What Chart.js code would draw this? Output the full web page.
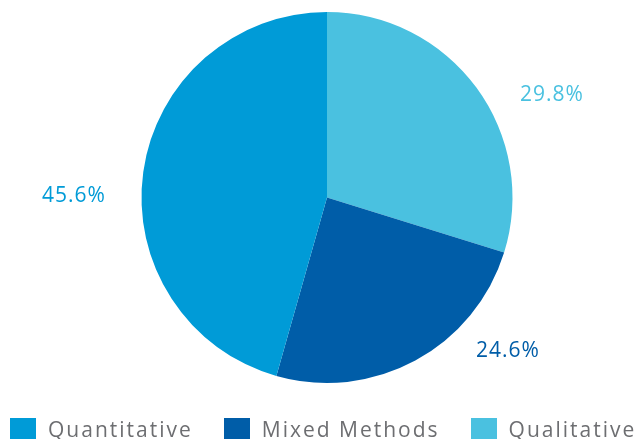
<!DOCTYPE html>
<html>
<head>
<meta charset="utf-8">
<script src="https://cdn.jsdelivr.net/npm/chart.js@4.4.1/dist/chart.umd.min.js"></script>
<style>
  html, body { margin: 0; padding: 0; background: #fff; }
  #wrap { position: relative; width: 643px; height: 439px; overflow: hidden; }
  #pie { position: absolute; left: 0; top: 0; }
  #legend {
    position: absolute; left: 10px; top: 415px;
    display: flex; align-items: center;
    font-family: "Open Sans", sans-serif; font-size: 21px; color: #6d6e71;
    letter-spacing: 2px; white-space: nowrap;
  }
  .item { display: flex; align-items: center; margin-right: 31px; }
  .swatch { width: 26px; height: 22px; margin-right: 12px; }
</style>
</head>
<body>
<div id="wrap">
  <canvas id="pie" width="643" height="439"></canvas>
  <div id="legend"></div>
</div>
<script>
// drawn clockwise from 12 o'clock; legend lists them the other way round
const categories = ["Qualitative", "Mixed Methods", "Quantitative"];
const shares = [29.8, 24.6, 45.6];
const colors = ["#4ac1e0", "#005da8", "#009bd7"];

// where each percentage label sits: degrees clockwise from top, distance in radii
const labelAngles = [65.5, 130.3, 270.3];
const labelDist = [1.333, 1.279, 1.364];

const pctLabels = {
  id: "pctLabels",
  afterDatasetsDraw(chart) {
    const ctx = chart.ctx;
    const arcs = chart.getDatasetMeta(0).data;
    ctx.save();
    ctx.font = "21px 'Open Sans', sans-serif";
    ctx.letterSpacing = "1px";
    ctx.textAlign = "center";
    ctx.textBaseline = "middle";
    arcs.forEach((arc, i) => {
      const a = labelAngles[i] * Math.PI / 180;
      const r = arc.outerRadius * labelDist[i];
      ctx.fillStyle = colors[i];
      ctx.fillText(shares[i].toFixed(1) + "%", arc.x + r * Math.sin(a), arc.y - r * Math.cos(a));
    });
    ctx.restore();
  }
};

new Chart(document.getElementById("pie").getContext("2d"), {
  type: "pie",
  data: {
    labels: categories,
    datasets: [{
      data: shares,
      backgroundColor: colors,
      borderWidth: 0
    }]
  },
  options: {
    responsive: false,
    animation: false,
    layout: { padding: { left: 11, right: 0, top: 12, bottom: 56 } },
    plugins: {
      legend: { display: false },
      tooltip: { enabled: false }
    }
  },
  plugins: [pctLabels]
});

// legend in reverse order of drawing
const legend = document.getElementById("legend");
for (let i = categories.length - 1; i >= 0; i--) {
  const item = document.createElement("div");
  item.className = "item";
  item.innerHTML = `<span class="swatch" style="background:${colors[i]}"></span><span>${categories[i]}</span>`;
  legend.appendChild(item);
}
</script>
</body>
</html>
